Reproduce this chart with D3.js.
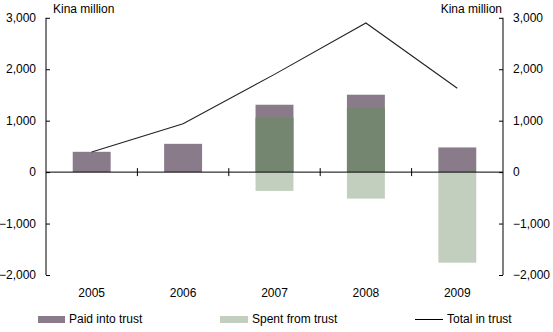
<!DOCTYPE html>
<html>
<head>
<meta charset="utf-8">
<script src="https://cdn.jsdelivr.net/npm/d3@7"></script>
<style>
  html, body { margin: 0; padding: 0; background: #fff; }
  svg { display: block; font-family: Arial, "Liberation Sans", sans-serif; }
</style>
</head>
<body>
<svg id="chart" width="553" height="332"></svg>
<script>
const years = ["2005", "2006", "2007", "2008", "2009"];
const paidIntoTrust = [395, 550, 1310, 1505, 480];
const spentFromTrust = [0, 0, -365, -515, -1760];
const totalInTrust = [390, 940, 1900, 2900, 1630];
const yTicks = [-2000, -1000, 0, 1000, 2000, 3000];
const unitLabel = "Kina million";
const seriesNames = ["Paid into trust", "Spent from trust", "Total in trust"];

(function () {
const svg = d3.select("#chart");
const pL = 46, pR = 503, pT = 17.8, pB = 275;

const x = d3.scaleBand().domain(years).range([pL, pR]).paddingInner(0.585).paddingOuter(0.2925);
const xb = d3.scaleBand().domain(years).range([pL, pR]);
const y = d3.scaleLinear().domain([-2000, 3000]).range([pB, pT]);

const paidCol = "#8a7b8b", paidBody = "#74866f", spentCol = "#c3cfbe";
const fmt = d3.format(",");

// bars: paid
svg.append("g").selectAll("rect").data(years).join("rect")
  .attr("x", d => x(d)).attr("width", x.bandwidth())
  .attr("y", (d, i) => y(paidIntoTrust[i]))
  .attr("height", (d, i) => y(0) - y(paidIntoTrust[i]))
  .attr("fill", paidCol);
// tall-bar body tint (rendering texture of the original)
svg.append("g").selectAll("rect").data(years.filter((d, i) => paidIntoTrust[i] > 1000)).join("rect")
  .attr("x", d => x(d)).attr("width", x.bandwidth())
  .attr("y", d => y(paidIntoTrust[years.indexOf(d)]) + 13)
  .attr("height", d => y(0) - y(paidIntoTrust[years.indexOf(d)]) - 13)
  .attr("fill", paidBody);
// bars: spent
svg.append("g").selectAll("rect").data(years).join("rect")
  .attr("x", d => x(d)).attr("width", x.bandwidth())
  .attr("y", y(0))
  .attr("height", (d, i) => y(spentFromTrust[i]) - y(0))
  .attr("fill", spentCol);

// line
const line = d3.line().x((d, i) => x(years[i]) + x.bandwidth() / 2).y(d => y(d));
svg.append("path").datum(totalInTrust).attr("d", line)
  .attr("fill", "none").attr("stroke", "#222").attr("stroke-width", 1.1);

// axes
const axL = svg.append("g").attr("transform", `translate(${pL},0)`)
  .call(d3.axisRight(y).tickValues(yTicks).tickSize(4).tickFormat(""));
const axR = svg.append("g").attr("transform", `translate(${pR},0)`)
  .call(d3.axisLeft(y).tickValues(yTicks).tickSize(4).tickFormat(""));
[axL, axR].forEach(a => { a.select(".domain").attr("stroke", "#000").attr("d", `M0,${pT}V${pB}`); a.selectAll("line").attr("stroke", "#000"); });

svg.append("g").selectAll("text").data(yTicks).join("text")
  .attr("x", 36).attr("y", d => y(d)).attr("dy", "0.35em")
  .attr("text-anchor", "end").attr("font-size", 12).text(d => fmt(d));
svg.append("g").selectAll("text").data(yTicks).join("text")
  .attr("x", 513).attr("y", d => y(d)).attr("dy", "0.35em")
  .attr("text-anchor", "start").attr("font-size", 12).text(d => fmt(d));

// zero line with ticks at category boundaries
svg.append("line").attr("x1", pL).attr("x2", pR).attr("y1", y(0)).attr("y2", y(0)).attr("stroke", "#000");
svg.append("g").selectAll("line").data(years.slice(1)).join("line")
  .attr("x1", d => xb(d)).attr("x2", d => xb(d))
  .attr("y1", y(0) - 4).attr("y2", y(0) + 4).attr("stroke", "#000");

// category labels
svg.append("g").selectAll("text").data(years).join("text")
  .attr("x", d => xb(d) + xb.bandwidth() / 2).attr("y", 297)
  .attr("text-anchor", "middle").attr("font-size", 12).text(d => d);

// unit labels
svg.append("text").attr("x", 53).attr("y", 13).attr("font-size", 12).text(unitLabel);
svg.append("text").attr("x", 502).attr("y", 13).attr("text-anchor", "end").attr("font-size", 12).text(unitLabel);

// legend
const lg = svg.append("g");
lg.append("rect").attr("x", 38).attr("y", 316).attr("width", 27).attr("height", 7).attr("fill", paidCol);
lg.append("text").attr("x", 69).attr("y", 323).attr("font-size", 12).text(seriesNames[0]);
lg.append("rect").attr("x", 220).attr("y", 316).attr("width", 28).attr("height", 7).attr("fill", spentCol);
lg.append("text").attr("x", 252).attr("y", 323).attr("font-size", 12).text(seriesNames[1]);
lg.append("line").attr("x1", 415).attr("x2", 443).attr("y1", 319.5).attr("y2", 319.5).attr("stroke", "#000");
lg.append("text").attr("x", 447).attr("y", 323).attr("font-size", 12).text(seriesNames[2]);
})();
</script>
</body>
</html>
